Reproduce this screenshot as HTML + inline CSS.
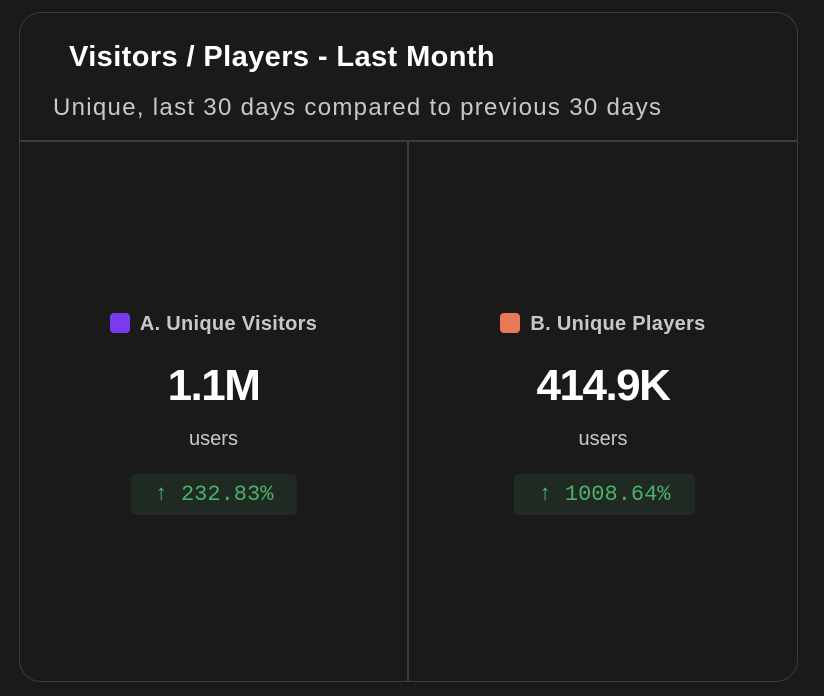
<!DOCTYPE html>
<html><head><meta charset="utf-8"><style>
body{margin:0;background:#1a1a1a;width:824px;height:696px;overflow:hidden;font-family:"Liberation Sans",sans-serif;}
.card{position:absolute;left:19px;top:12px;width:779px;height:670px;border:1.5px solid #3c3c3c;border-radius:22px;box-sizing:border-box;background:#1a1a1a;}
.title{position:absolute;left:49px;top:28px;font-size:29px;font-weight:bold;color:#fff;letter-spacing:0.4px;}
.sub{position:absolute;left:33px;top:81px;font-size:24px;color:#c8c8c8;letter-spacing:1.3px;}
.hsep{position:absolute;left:0;right:0;top:127px;height:1.5px;background:#3c3c3c;}
.vsep{position:absolute;left:387px;top:128px;bottom:0;width:1.5px;background:#3c3c3c;}
.panel{position:absolute;top:128px;bottom:0;text-align:center;}
.leg{position:absolute;top:172px;left:0;right:0;font-size:20px;font-weight:bold;color:#c8c8c8;letter-spacing:0.3px;}
.sw{display:inline-block;width:20px;height:20px;border-radius:4px;vertical-align:-3px;margin-right:10px;}
.val{position:absolute;top:220px;left:0;right:0;font-size:44px;font-weight:bold;color:#fff;letter-spacing:-1.5px;}
.unit{position:absolute;top:287px;left:0;right:0;font-size:20px;color:#c8c8c8;}
.badge{position:absolute;top:333px;height:41px;line-height:41px;background:#1f2a22;border-radius:5px;font-family:"Liberation Mono",monospace;font-size:22px;color:#4caf6a;}
</style></head><body>
<div class="card">
<div class="title">Visitors / Players - Last Month</div>
<div class="sub">Unique, last 30 days compared to previous 30 days</div>
<div class="hsep"></div>
<div class="vsep"></div>
<div class="panel" style="left:0;width:387px">
<div class="leg"><span class="sw" style="background:#7c3aed"></span>A. Unique Visitors</div>
<div class="val">1.1M</div>
<div class="unit">users</div>
<div class="badge" style="left:111px;width:166px">↑ 232.83%</div>
</div>
<div class="panel" style="left:388px;width:390px">
<div class="leg"><span class="sw" style="background:#e8785a"></span>B. Unique Players</div>
<div class="val">414.9K</div>
<div class="unit">users</div>
<div class="badge" style="left:106px;width:181px">↑ 1008.64%</div>
</div>
</div>
</body></html>
